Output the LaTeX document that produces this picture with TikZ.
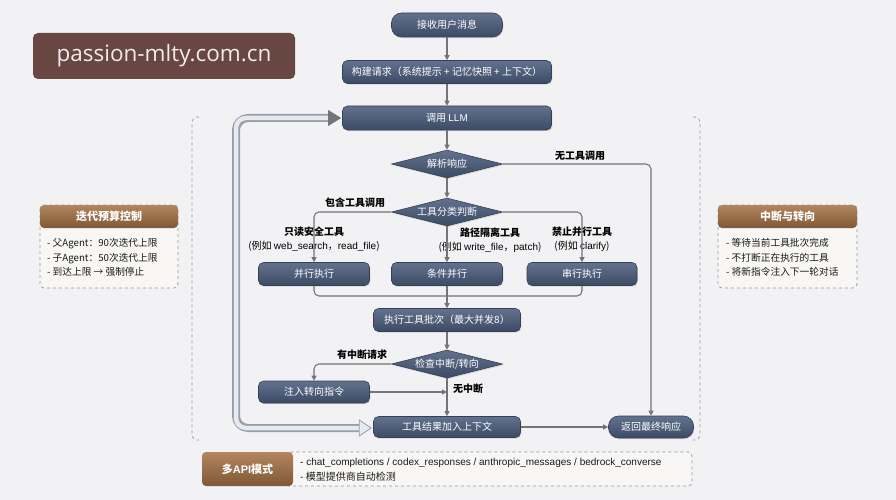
\documentclass[tikz,border=0pt]{standalone}
\usepackage{fontspec}
\setmainfont{Noto Sans CJK SC}
\newfontfamily\latf{Liberation Sans}
\newfontfamily\wmf{Open Sans}
\usetikzlibrary{shapes.geometric,arrows.meta,calc,shadows}
\definecolor{bg}{RGB}{242,242,244}
\definecolor{ntop}{RGB}{98,114,142}
\definecolor{nbot}{RGB}{60,75,100}
\definecolor{nbord}{RGB}{52,64,86}
\definecolor{lc}{RGB}{115,115,120}
\definecolor{btop}{RGB}{178,134,94}
\definecolor{bbot}{RGB}{128,88,54}
\definecolor{wmc}{RGB}{104,70,66}
\definecolor{wmt}{RGB}{242,236,236}
\definecolor{pbody}{RGB}{248,247,245}
\definecolor{dashc}{RGB}{150,150,155}
\definecolor{loopo}{RGB}{150,158,172}
\definecolor{loopi}{RGB}{230,233,238}
\tikzset{
 proc/.style={rectangle, rounded corners=5pt, top color=ntop, bottom color=nbot, draw=nbord, line width=0.6pt, text=white, font=\fontsize{10}{12}\selectfont, inner sep=0pt, drop shadow={opacity=0.25,shadow xshift=0.8pt,shadow yshift=-1.2pt}},
 term/.style={proc, rounded corners=10pt},
 dec/.style={diamond, aspect=4, top color=ntop, bottom color=nbot, draw=nbord, line width=0.6pt, text=white, font=\fontsize{10}{12}\selectfont, inner sep=0pt, minimum width=111pt, minimum height=28pt, drop shadow={opacity=0.25,shadow xshift=0.8pt,shadow yshift=-1.2pt}},
 lbl/.style={text=black, font=\fontsize{10}{14}\selectfont, align=center, inner sep=0pt},
 arr/.style={draw=lc, line width=1.1pt, -{Triangle[length=5pt,width=5pt]}, rounded corners=5pt},
 ln/.style={draw=lc, line width=1.1pt, rounded corners=5pt},
 hdr/.style={rectangle, rounded corners=4pt, top color=btop, bottom color=bbot, text=white, font=\fontsize{11}{13}\selectfont\bfseries, minimum width=138pt, minimum height=23pt, inner sep=0pt},
 pbox/.style={draw=dashc, dashed, fill=pbody, rounded corners=4pt, line width=0.7pt},
 ptxt/.style={font=\fontsize{9.7}{14.5}\selectfont, align=left, anchor=west, inner sep=0pt, text=black!90}
}
\begin{document}
\begin{tikzpicture}[x=1pt,y=-1pt]
\fill[bg] (0,0) rectangle (896,500);
\useasboundingbox (0,0) rectangle (896,500);

% watermark
\node[fill=wmc, rounded corners=5pt, minimum width=262pt, minimum height=46pt, text=wmt, font=\wmf\fontsize{22.5}{26}\selectfont, inner sep=0pt] (wm) at (164,56) {passion-mlty.com.cn};

% dashed container brackets
\draw[dashc, dashed, line width=0.7pt, rounded corners=5pt] (199,117) -- (192,117) -- (192,440) -- (199,440);
\draw[dashc, dashed, line width=0.7pt, rounded corners=5pt] (693,117) -- (700,117) -- (700,440) -- (693,440);

% main nodes
\node[term, minimum width=111pt, minimum height=24pt] (n1) at (447,25) {接收用户消息};
\node[proc, minimum width=209pt, minimum height=23pt] (n2) at (447,72) {构建请求（系统提示 + 记忆快照 + 上下文）};
\node[proc, minimum width=209pt, minimum height=24pt] (n3) at (447,118) {调用 {\latf LLM}};
\node[dec] (d1) at (447,164) {解析响应};
\node[dec] (d2) at (447,212) {工具分类判断};
\node[proc, minimum width=111pt, minimum height=23pt] (p1) at (314,274) {并行执行};
\node[proc, minimum width=111pt, minimum height=23pt] (p2) at (447,274) {条件并行};
\node[proc, minimum width=110pt, minimum height=23pt] (p3) at (582,274) {串行执行};
\node[proc, minimum width=147pt, minimum height=23pt] (ex) at (447,320) {执行工具批次（最大并发8）};
\node[dec] (d3) at (447,364) {检查中断/转向};
\node[proc, minimum width=111pt, minimum height=22pt] (inj) at (314,392) {注入转向指令};
\node[proc, minimum width=147pt, minimum height=21pt] (res) at (447,427) {工具结果加入上下文};
\node[term, minimum width=85pt, minimum height=22pt] (ret) at (651,427) {返回最终响应};

% labels
\node[lbl] (lnt) at (580,156) {\bfseries 无工具调用};
\node[lbl] (linc) at (355,203) {\bfseries 包含工具调用};
\node[lbl] (lro) at (314,239) {{\bfseries 只读安全工具}\\(例如 {\latf web\_search}，{\latf read\_file})};
\node[lbl] (lpi) at (490,240) {{\bfseries 路径隔离工具}\\(例如 {\latf write\_file}，{\latf patch})};
\node[lbl] (lfp) at (582,239) {{\bfseries 禁止并行工具}\\(例如 {\latf clarify})};
\node[lbl] (lint) at (362,355) {\bfseries 有中断请求};
\node[lbl] (lnoi) at (468,389) {\bfseries 无中断};

% connectors
\draw[arr] (n1) -- (n2);
\draw[arr] (n2) -- (n3);
\draw[arr] (n3) -- (d1);
\draw[arr] (d1.east) -| (ret.north);
\draw[arr] (d1) -- (d2);
\draw[arr] (d2.west) -| (p1.north);
\draw[arr] (d2) -- (p2);
\draw[arr] (d2.east) -| (p3.north);
\coordinate (mj) at (447,296);
\draw[ln] (p1.south) |- (mj);
\draw[ln] (p3.south) |- (mj);
\draw[arr] (p2) -- (ex);
\draw[arr] (ex) -- (d3);
\draw[arr] (d3.west) -| (inj.north);
\draw[arr] (d3) -- (res);
\draw[arr] (inj.east) -- (inj.east -| d3.south);
\draw[arr] (res) -- (ret);

% loop back arrow
\coordinate (lb) at ($(res.west)+(-14,1)$);
\coordinate (lt) at ($(n3.west)+(-14,0)$);
\draw[loopo, line width=8pt, rounded corners=12pt] (lb) -- (236,428) -- (236,118) -- (lt);
\draw[loopi, line width=4.5pt, rounded corners=10pt] (lb) -- (236,428) -- (236,118) -- (lt);
\fill[lc] ($(lt)+(0,-8)$) -- ($(n3.west)+(-1,0)$) -- ($(lt)+(0,8)$) -- cycle;
\filldraw[fill=loopi, draw=loopo, line width=0.8pt] ($(lb)+(0,-8)$) -- ($(res.west)+(-2,1)$) -- ($(lb)+(0,8)$) -- cycle;

% left panel
\draw[pbox] (40,205) rectangle (178,288);
\node[hdr] (hl) at (109,216.5) {迭代预算控制};
\node[ptxt] (tl) at (47,257.5) {- 父Agent：90次迭代上限\\- 子Agent：50次迭代上限\\- 到达上限 → 强制停止};

% right panel
\draw[pbox] (718,205) rectangle (857,288);
\node[hdr, minimum width=139pt] (hr) at (787.5,216.5) {中断与转向};
\node[ptxt] (tr) at (726,257.5) {- 等待当前工具批次完成\\- 不打断正在执行的工具\\- 将新指令注入下一轮对话};

% bottom API panel
\draw[pbox] (285,452) rectangle (692,486);
\node[hdr, minimum width=91pt, minimum height=34pt] (api) at (247.5,469) {多{\latf API}模式};
\node[ptxt, font=\latf\fontsize{10}{15}\selectfont] (tapi) at (300,469.5) {- chat\_completions / codex\_responses / anthropic\_messages / bedrock\_converse\\{\rmfamily - 模型提供商自动检测}};
\end{tikzpicture}
\end{document}
